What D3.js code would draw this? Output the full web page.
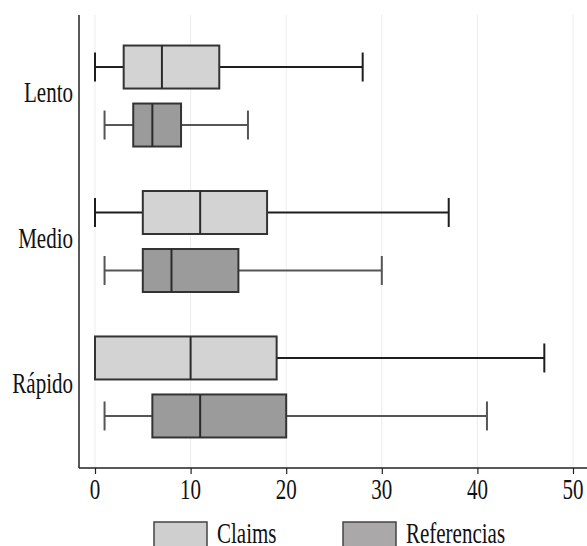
<!DOCTYPE html>
<html>
<head>
<meta charset="utf-8">
<script src="https://cdn.jsdelivr.net/npm/d3@7"></script>
<style>
  body { margin: 0; background: #fff; }
  svg { display: block; }
  text { font-family: "Liberation Serif", "Times New Roman", serif; fill: #111; }
</style>
</head>
<body>
<svg id="chart"></svg>
<script>
// velocidad categories and the two series
const categories = ["Lento", "Medio", "Rápido"];
const series = ["Claims", "Referencias"];
const xTicks = [0, 10, 20, 30, 40, 50];

// [lower whisker, q1, median, q3, upper whisker] per category
const claimsStats = [
    [0, 3, 7, 13, 28],
    [0, 5, 11, 18, 37],
    [0, 0, 10, 19, 47]
];
const referenciasStats = [
    [1, 4, 6, 9, 16],
    [1, 5, 8, 15, 30],
    [1, 6, 11, 20, 41]
];

const W = 587, H = 546;
const mLeft = 79, mRight = 573, mTop = 15, mBottom = 468;
const stretch = 1.45; // the text in the picture is tall and narrow

const fills = { "Claims": "#d3d3d3", "Referencias": "#9b9b9b" };
const whiskerColor = { "Claims": "#1e1e1e", "Referencias": "#555" };

const svg = d3.select("#chart").attr("width", W).attr("height", H);

const x = d3.scaleLinear().domain([0, 50]).range([95, mRight]);
const y = d3.scalePoint().domain(categories).range([mTop, mBottom]).padding(0.557);
const ySub = d3.scalePoint().domain(series).range([-29, 29]);
const boxH = 43, capH = 29;

// grid
svg.append("g").selectAll("line")
    .data(xTicks)
    .enter().append("line")
    .attr("x1", d => x(d)).attr("x2", d => x(d))
    .attr("y1", mTop).attr("y2", mBottom)
    .attr("stroke", "#ececec").attr("stroke-width", 1);

// rows
let rows = [];
categories.forEach((c, i) => {
    rows.push({ cat: c, s: "Claims", v: claimsStats[i] });
    rows.push({ cat: c, s: "Referencias", v: referenciasStats[i] });
});

const g = svg.append("g").selectAll("g")
    .data(rows)
    .enter().append("g")
    .attr("transform", d => `translate(0,${y(d.cat) + ySub(d.s)})`);

// whiskers
g.append("line")
    .attr("x1", d => x(d.v[0])).attr("x2", d => x(d.v[1]))
    .attr("y1", 0).attr("y2", 0)
    .attr("stroke", d => whiskerColor[d.s]).attr("stroke-width", 2);
g.append("line")
    .attr("x1", d => x(d.v[3])).attr("x2", d => x(d.v[4]))
    .attr("y1", 0).attr("y2", 0)
    .attr("stroke", d => whiskerColor[d.s]).attr("stroke-width", 2);
g.filter(d => d.v[0] < d.v[1]).append("line")
    .attr("x1", d => x(d.v[0])).attr("x2", d => x(d.v[0]))
    .attr("y1", -capH / 2).attr("y2", capH / 2)
    .attr("stroke", d => whiskerColor[d.s]).attr("stroke-width", 2);
g.append("line")
    .attr("x1", d => x(d.v[4])).attr("x2", d => x(d.v[4]))
    .attr("y1", -capH / 2).attr("y2", capH / 2)
    .attr("stroke", d => whiskerColor[d.s]).attr("stroke-width", 2);

// boxes
g.append("rect")
    .attr("x", d => x(d.v[1]))
    .attr("width", d => x(d.v[3]) - x(d.v[1]))
    .attr("y", -boxH / 2).attr("height", boxH)
    .attr("fill", d => fills[d.s])
    .attr("stroke", "#333").attr("stroke-width", 2);
g.append("line")
    .attr("x1", d => x(d.v[2])).attr("x2", d => x(d.v[2]))
    .attr("y1", -boxH / 2).attr("y2", boxH / 2)
    .attr("stroke", "#2a2a2a").attr("stroke-width", 2);

// axes
svg.append("line")
    .attr("x1", mLeft).attr("x2", mLeft).attr("y1", mTop).attr("y2", mBottom)
    .attr("stroke", "#222").attr("stroke-width", 1.5);
const xAxis = svg.append("g")
    .attr("transform", `translate(0,${mBottom})`)
    .call(d3.axisBottom(x).tickValues(xTicks).tickSize(6).tickFormat(""));
xAxis.select(".domain").remove();
xAxis.selectAll(".tick line").attr("stroke", "#222").attr("stroke-width", 1.2);
svg.append("line")
    .attr("x1", mLeft).attr("x2", W).attr("y1", mBottom).attr("y2", mBottom)
    .attr("stroke", "#222").attr("stroke-width", 1.5);

svg.append("g").selectAll("text")
    .data(xTicks)
    .enter().append("text")
    .attr("transform", d => `translate(${x(d)},${mBottom + 31}) scale(1,${stretch})`)
    .attr("text-anchor", "middle")
    .attr("font-size", "21px")
    .text(d => d);

svg.append("g").selectAll("text")
    .data(categories)
    .enter().append("text")
    .attr("transform", d => `translate(73,${y(d) + 6}) scale(1,${stretch})`)
    .attr("text-anchor", "end")
    .attr("font-size", "21px")
    .text(d => d);

// legend
const legendX = [154, 343];
const leg = svg.append("g").selectAll("g")
    .data(series)
    .enter().append("g")
    .attr("transform", (d, i) => `translate(${legendX[i]},522)`);
leg.append("rect")
    .attr("width", 53).attr("height", 26)
    .attr("fill", d => d == "Claims" ? "#d0cfcf" : "#aaa8a8")
    .attr("stroke", "#444").attr("stroke-width", 1.5);
leg.append("text")
    .attr("transform", `translate(63,21) scale(1,${stretch})`)
    .attr("font-size", "21px")
    .text(d => d);
</script>
</body>
</html>
